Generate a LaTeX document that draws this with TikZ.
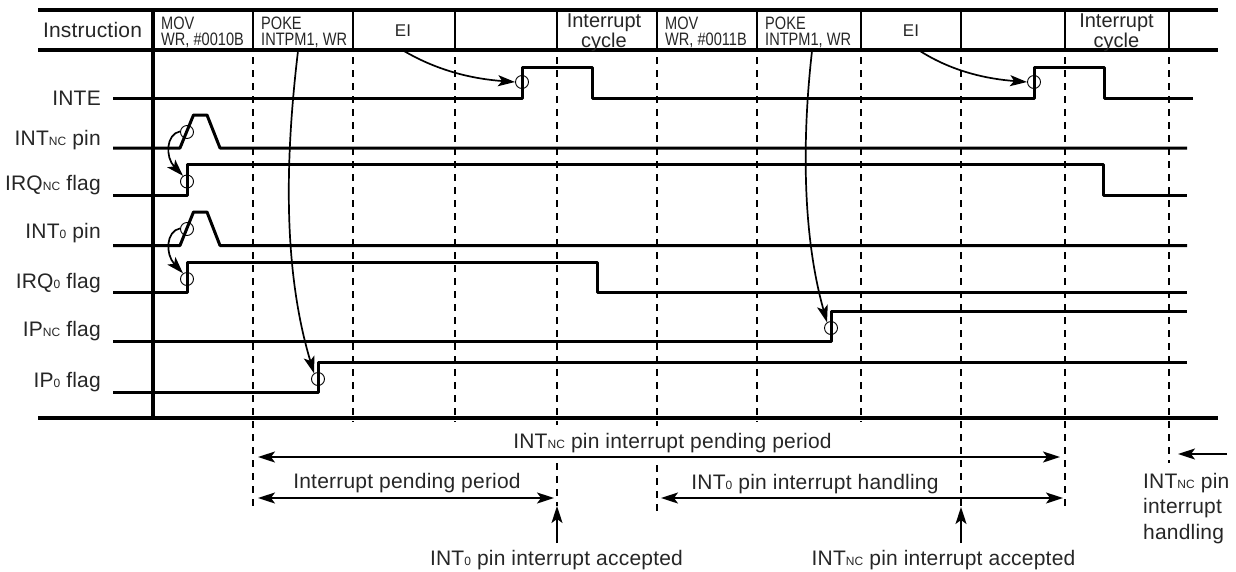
\documentclass[tikz,border=0pt]{standalone}
\usepackage{fontspec}
\usetikzlibrary{arrows.meta}
\setmainfont{Liberation Sans}
\newfontfamily\labfont[LetterSpace=1]{Liberation Sans}
\newfontfamily\hdrfont[FakeStretch=0.81]{Liberation Sans}
\newfontfamily\cycfont{Liberation Sans}
\newcommand{\subt}[1]{{\fontsize{12}{12}\selectfont #1}}
\definecolor{ink}{gray}{0.15}
\tikzset{
  x=1pt,y=-1pt,
  rule/.style={line width=3.2pt},
  wave/.style={line width=3pt,line join=round},
  thinv/.style={line width=1.8pt},
  dashv/.style={line width=1.7pt,dash pattern=on 6.5pt off 6.5pt},
  mark circ/.style={circle,draw,line width=0.9pt,minimum size=13pt,inner sep=0pt},
  flow/.style={line width=1.7pt,-{Stealth[length=17pt,width=11pt,inset=4pt]}},
  dim/.style={line width=1.7pt,{Stealth[length=17pt,width=11pt,inset=4pt]}-{Stealth[length=17pt,width=11pt,inset=4pt]}},
  lab/.style={inner sep=0pt,text=ink,font=\labfont\fontsize{21}{25.5}\selectfont},
  siglab/.style={lab,anchor=base east},
  hdr/.style={inner sep=0pt,anchor=west,align=left,text=ink,font=\hdrfont\fontsize{18}{16}\selectfont},
  cyc/.style={inner sep=0pt,anchor=center,align=center,text=ink,font=\cycfont\fontsize{20}{18}\selectfont},
}
\begin{document}
\begin{tikzpicture}
\useasboundingbox (0,0) rectangle (1236,571);
% dashed time marks
\foreach \xx/\yy in {253/511,353/422,455/422,657/426,757/422,861/422,1065/510,1169/463}{
  \draw[dashv] (\xx,57) -- (\xx,\yy);
}
\draw[dashv] (557,57) -- (557,425);
\draw[dashv] (557,463) -- (557,506);
\draw[dashv] (657,465) -- (657,513);
\draw[dashv] (961,57) -- (961,506);
% instruction table
\foreach \xx in {253,353,455,557,657,757,861,961,1065,1169}{
  \draw[thinv] (\xx,10) -- (\xx,50);
}
\draw[rule] (38,10) -- (1218,10);
\draw[rule] (38,50) -- (1218,50);
\draw[rule] (38,418) -- (1218,418);
\draw[rule] (153,10) -- (153,418);
% header text
\node[lab,anchor=base] (hInstr) at (92.5,37) {Instruction};
\node[hdr] (h1) at (161,32) {MOV\\WR, \#0010B};
\node[hdr] (h2) at (261,32) {POKE\\INTPM1, WR};
\node[hdr,anchor=center,font=\cycfont\fontsize{17}{17}\selectfont] (h3) at (403,31) {EI};
\node[cyc] (h4) at (604,33) {Interrupt\\cycle};
\node[hdr] (h5) at (665,32) {MOV\\WR, \#0011B};
\node[hdr] (h6) at (765,32) {POKE\\INTPM1, WR};
\node[hdr,anchor=center,font=\cycfont\fontsize{17}{17}\selectfont] (h7) at (911,31) {EI};
\node[cyc] (h8) at (1116.5,33) {Interrupt\\cycle};
% signal labels
\node[siglab] (lInte) at (101,105) {INTE};
\node[siglab] (lIntNc) at (101,145) {INT\subt{NC} pin};
\node[siglab] (lIrqNc) at (101,190) {IRQ\subt{NC} flag};
\node[siglab] (lInt0) at (101,238) {INT\subt{0} pin};
\node[siglab] (lIrq0) at (101,288) {IRQ\subt{0} flag};
\node[siglab] (lIpNc) at (101,336) {IP\subt{NC} flag};
\node[siglab] (lIp0) at (101,387) {IP\subt{0} flag};
% waveforms
\draw[wave] (113,98) -- (522,98) -- (522,67) -- (592.5,67) -- (592.5,98) -- (1034,98) -- (1034,67) -- (1104,67) -- (1104,98) -- (1193,98);
\draw[wave] (113,148) -- (180,148) -- (193.5,115) -- (207,115) -- (220,148) -- (1187,148);
\draw[wave] (113,195) -- (187,195) -- (187,164) -- (1103,164) -- (1103,195) -- (1187,195);
\draw[wave] (113,245.5) -- (180,245.5) -- (193.5,212) -- (207,212) -- (220,245.5) -- (1187,245.5);
\draw[wave] (113,292) -- (187,292) -- (187,262) -- (597,262) -- (597,292) -- (1187,292);
\draw[wave] (113,341.5) -- (831,341.5) -- (831,311) -- (1187,311);
\draw[wave] (113,392) -- (318,392) -- (318,362) -- (1187,362);
% event circles
\node[mark circ] (cA) at (187,132) {};
\node[mark circ] (cB) at (187,181.5) {};
\node[mark circ] (cC) at (187,229) {};
\node[mark circ] (cD) at (187,279) {};
\node[mark circ] (cE) at (522,82) {};
\node[mark circ] (cF) at (1034,82) {};
\node[mark circ] (cG) at (318,379) {};
\node[mark circ] (cH) at (831,328) {};
% cause to effect
\coordinate (s1) at (298,51);
\coordinate (s2) at (812,51);
\coordinate (s3) at (404,51);
\coordinate (s4) at (920,51);
\draw[flow] (cA.175) .. controls (166,134) and (165,157) .. (cB.125);
\draw[flow] (cC.175) .. controls (166,231) and (165,254) .. (cD.125);
\draw[flow] (s1) .. controls (285,160) and (283,270) .. (cG.125);
\draw[flow] (s2) .. controls (803,130) and (801,230) .. (cH.125);
\draw[flow] (s3) .. controls (440,72) and (475,79) .. (cE.180);
\draw[flow] (s4) .. controls (953,72) and (988,79) .. (cF.180);
% periods
\coordinate (pA) at (258,457);
\coordinate (pB) at (1060,457);
\coordinate (pC) at (258,498);
\coordinate (pD) at (554,498);
\coordinate (pE) at (661,498);
\coordinate (pF) at (1063,498);
\draw[dim] (pA) -- (pB);
\draw[dim] (pC) -- (pD);
\draw[dim] (pE) -- (pF);
\node[lab,anchor=base] (tA) at (672.5,448) {INT\subt{NC} pin interrupt pending period};
\node[lab,anchor=base] (tB) at (407,488) {Interrupt pending period};
\node[lab,anchor=base] (tC) at (815,489) {INT\subt{0} pin interrupt handling};
% accepted markers
\node[lab,anchor=base] (tD) at (556.5,565) {INT\subt{0} pin interrupt accepted};
\node[lab,anchor=base] (tE) at (943.5,565) {INT\subt{NC} pin interrupt accepted};
\coordinate (uA) at (557,543);
\coordinate (uB) at (557,506);
\coordinate (uC) at (961,543);
\coordinate (uD) at (961,507);
\draw[flow] (uA) -- (uB);
\draw[flow] (uC) -- (uD);
% handling marker
\coordinate (wA) at (1227,454);
\coordinate (wB) at (1178,454);
\draw[flow] (wA) -- (wB);
\node[lab,anchor=north west,align=left] (tF) at (1143,473) {INT\subt{NC} pin\\interrupt\\handling};
\end{tikzpicture}
\end{document}
